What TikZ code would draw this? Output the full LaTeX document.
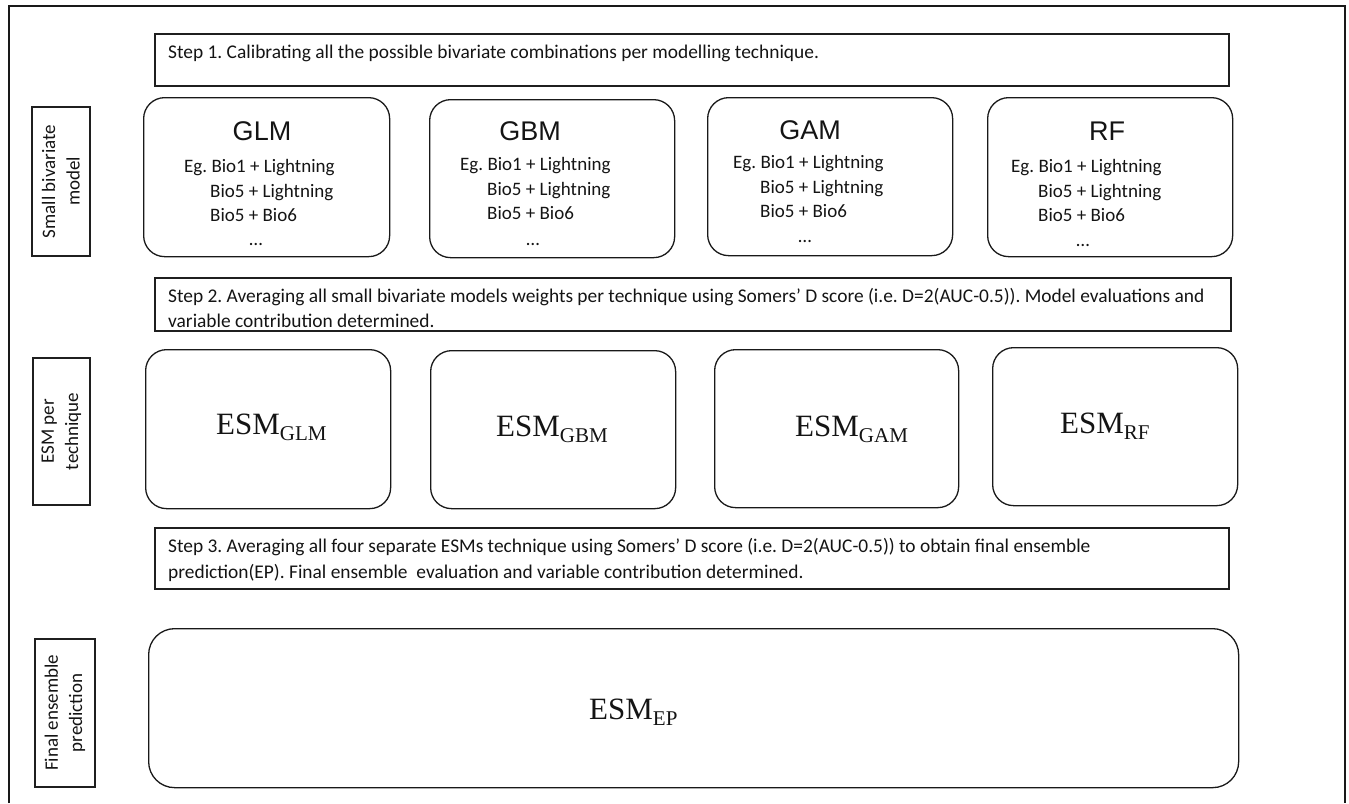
\documentclass[tikz,border=0pt]{standalone}
\usepackage{fontspec}
\setmainfont{Carlito}
\newfontfamily\arialf{Liberation Sans}
\newfontfamily\timesf{Liberation Serif}
\frenchspacing
\newcommand\steptxt{\fontsize{19.4}{24.4}\selectfont}
\newcommand\boxtxt{\fontsize{19}{24.4}\selectfont}
\newcommand\headtxt{\arialf\fontsize{27}{27}\selectfont}
\newcommand\esmtext[1]{{\timesf\fontsize{31}{31}\selectfont ESM\raisebox{-6.5pt}{\fontsize{21}{21}\selectfont #1}}}
\begin{document}
\begin{tikzpicture}[x=1pt,y=-1pt,
  stepbox/.style={draw=black!88, line width=1.8pt, inner sep=0pt, anchor=north west},
  labbox/.style={draw=black!88, line width=1.8pt, inner sep=0pt, anchor=north west},
  rbox/.style={draw=black!90, line width=1.3pt, rounded corners=21pt, inner sep=0pt, anchor=north west},
  fbox/.style={draw=black!90, line width=1.3pt, rounded corners=26pt, inner sep=0pt, anchor=north west},
  txt/.style={inner sep=0pt, anchor=base west, font=\steptxt, text=black!92},
  btxt/.style={inner sep=0pt, anchor=base west, font=\boxtxt, text=black!92},
  head/.style={inner sep=0pt, anchor=base, font=\headtxt, text=black!92},
  esm/.style={inner sep=0pt, anchor=base west, text=black!92},
  lab/.style={inner sep=0pt, rotate=90, align=center, font=\boxtxt, text=black!92}]
\useasboundingbox (0,0) rectangle (1349,803);
% outer frame
\draw[line width=2.6pt, black!90] (9,803) -- (9,6) -- (1345,6) -- (1345,803);

% Step boxes
\node[stepbox, minimum width=1074pt, minimum height=52pt] (s1) at (154,33) {};
\node[stepbox, minimum width=1076pt, minimum height=53pt] (s2) at (154,277) {};
\node[stepbox, minimum width=1074pt, minimum height=61pt] (s3) at (154,527) {};
\node[txt] (s1t) at (168,58) {Step 1. Calibrating all the possible bivariate combinations per modelling technique.};
\node[txt] (s2a) at (168,302) {Step 2. Averaging all small bivariate models weights per technique using Somers’ D score (i.e. D=2(AUC-0.5)). Model evaluations and};
\node[txt] (s2b) at (168,327) {variable contribution determined.};
\node[txt] (s3a) at (168,552) {Step 3. Averaging all four separate ESMs technique using Somers’ D score (i.e. D=2(AUC-0.5)) to obtain final ensemble};
\node[txt] (s3b) at (168,578) {prediction(EP). Final ensemble\ \ evaluation and variable contribution determined.};

% Left label boxes
\node[labbox, minimum width=58pt, minimum height=149pt] (l1) at (31,106) {};
\node[labbox, minimum width=57pt, minimum height=147pt] (l2) at (32,357) {};
\node[labbox, minimum width=60pt, minimum height=148pt] (l3) at (34,638) {};
\node[lab] (l1t) at (l1.center) {Small bivariate\\model};
\node[lab] (l2t) at (l2.center) {ESM per\\technique};
\node[lab] (l3t) at (l3.center) {Final ensemble\\prediction};

% Row 1: model boxes
\node[rbox, minimum width=246pt, minimum height=159pt] (glm) at (143,97) {};
\node[rbox, minimum width=245pt, minimum height=158pt] (gbm) at (429,99) {};
\node[rbox, minimum width=245pt, minimum height=158pt] (gam) at (707,97) {};
\node[rbox, minimum width=245pt, minimum height=159pt] (rf) at (987,97) {};

\node[head] (glmh) at (262,140) {GLM};
\node[btxt] (glm1) at (184,172) {Eg. Bio1 + Lightning};
\node[btxt] (glm2) at (210,197) {Bio5 + Lightning};
\node[btxt] (glm3) at (210,221) {Bio5 + Bio6};
\node[btxt, anchor=base] (glm4) at (256,245) {\textellipsis};

\node[head] (gbmh) at (530,140) {GBM};
\node[btxt] (gbm1) at (460,170) {Eg. Bio1 + Lightning};
\node[btxt] (gbm2) at (487,195) {Bio5 + Lightning};
\node[btxt] (gbm3) at (487,219) {Bio5 + Bio6};
\node[btxt, anchor=base] (gbm4) at (533,245) {\textellipsis};

\node[head] (gamh) at (810,139) {GAM};
\node[btxt] (gam1) at (733,168) {Eg. Bio1 + Lightning};
\node[btxt] (gam2) at (760,193) {Bio5 + Lightning};
\node[btxt] (gam3) at (760,217) {Bio5 + Bio6};
\node[btxt, anchor=base] (gam4) at (805,242) {\textellipsis};

\node[head] (rfh) at (1107,140) {RF};
\node[btxt] (rf1) at (1011,172) {Eg. Bio1 + Lightning};
\node[btxt] (rf2) at (1038,197) {Bio5 + Lightning};
\node[btxt] (rf3) at (1038,221) {Bio5 + Bio6};
\node[btxt, anchor=base] (rf4) at (1083,246) {\textellipsis};

% Row 2: ESM per technique
\node[rbox, minimum width=245pt, minimum height=159pt] (eglm) at (145,349) {};
\node[rbox, minimum width=245pt, minimum height=158pt] (egbm) at (430,350) {};
\node[rbox, minimum width=244pt, minimum height=158pt] (egam) at (714,349) {};
\node[rbox, minimum width=245pt, minimum height=158pt] (erf) at (992,347) {};
\node[esm] (eglmt) at (216,434) {\esmtext{GLM}};
\node[esm] (egbmt) at (496,436) {\esmtext{GBM}};
\node[esm] (egamt) at (795,436) {\esmtext{GAM}};
\node[esm] (erft) at (1060,433) {\esmtext{RF}};

% Final ensemble
\node[fbox, minimum width=1090pt, minimum height=159pt] (ep) at (148,628) {};
\node[esm] (ept) at (589,719) {\esmtext{EP}};
\end{tikzpicture}
\end{document}
